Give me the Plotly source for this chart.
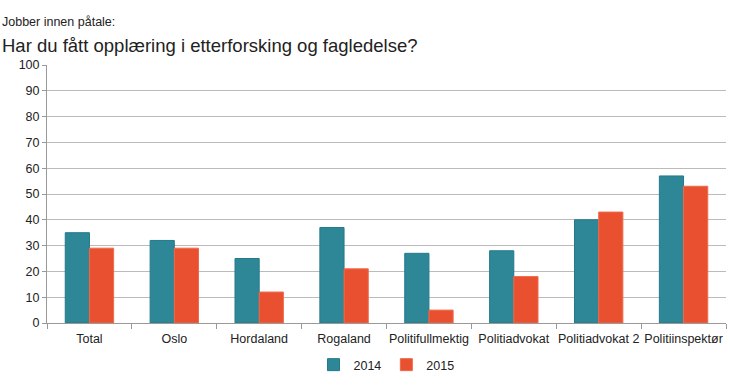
import plotly.graph_objects as go

categories = ["Total", "Oslo", "Hordaland", "Rogaland", "Politifullmektig",
              "Politiadvokat", "Politiadvokat 2", "Politiinspektør"]
values_2014 = [35, 32, 25, 37, 27, 28, 40, 57]
values_2015 = [29, 29, 12, 21, 5, 18, 43, 53]
y_ticks = list(range(0, 101, 10))

fig = go.Figure()
fig.add_trace(go.Bar(x=categories, y=values_2014, name="2014",
                     marker=dict(color="#2e8797", line=dict(color="#237a8a", width=1))))
fig.add_trace(go.Bar(x=categories, y=values_2015, name="2015",
                     marker=dict(color="#e9502f", line=dict(color="#f06a4a", width=1))))

fig.update_layout(
    width=730, height=386,
    margin=dict(l=47, r=4, t=65, b=63),
    paper_bgcolor="white", plot_bgcolor="white",
    font=dict(family="Liberation Sans, Arial, sans-serif", size=12, color="#222"),
    barmode="group", bargap=0.43, bargroupgap=0,
    showlegend=True,
    legend=dict(orientation="h", x=0.5, xanchor="center", y=-(365 - 323) / 258,
                yanchor="middle", font=dict(size=12.5), traceorder="normal",
                itemwidth=30),
    xaxis=dict(showline=True, linecolor="#999", linewidth=1, ticks="outside",
               tickcolor="#999", ticklen=5, tickson="boundaries", tickangle=0,
               ticklabelstandoff=4,
               automargin=False, tickfont=dict(size=12.5, color="#222")),
    yaxis=dict(range=[0, 100], tickvals=y_ticks, showgrid=True, gridcolor="#bbb",
               gridwidth=1, showline=True, linecolor="#999", ticks="outside",
               tickcolor="#999", ticklen=4, tickfont=dict(size=12.5, color="#222"),
               zeroline=False, automargin=False),
)
fig.add_annotation(text="Jobber innen påtale:", xref="paper", yref="paper",
                   x=-47/679, y=1 + (65-22)/258, xanchor="left", yanchor="middle",
                   showarrow=False, font=dict(size=12.5, color="#222"))
fig.add_annotation(text="Har du fått opplæring i etterforsking og fagledelse?", xref="paper", yref="paper",
                   x=-47/679, y=1 + (65-45)/258, xanchor="left", yanchor="middle",
                   showarrow=False, font=dict(size=18.5, color="#222"))

fig.write_html("out.html", config={"displayModeBar": False})
with open("out.html", encoding="utf-8") as f:
    html = f.read()
html = html.replace("<head>", "<head><style>html,body{margin:0;padding:0;overflow:hidden;}</style>", 1)
with open("out.html", "w", encoding="utf-8") as f:
    f.write(html)
